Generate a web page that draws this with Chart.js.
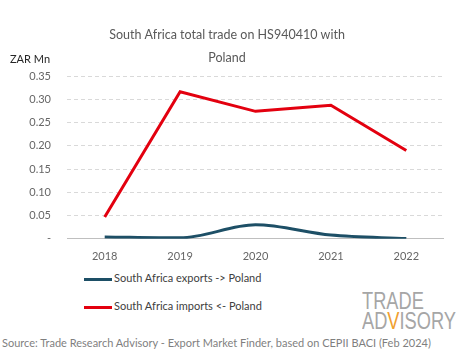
<!DOCTYPE html>
<html>
<head>
<meta charset="utf-8">
<script src="https://cdn.jsdelivr.net/npm/chart.js@4/dist/chart.umd.min.js"></script>
<style>
  body { margin: 0; background: #fff; font-family: Lato, sans-serif; }
  #wrap { position: relative; width: 465px; height: 359px; overflow: hidden; }
  #chartBox { position: absolute; left: 0; top: 0; width: 465px; height: 266px; }
  .unit { position: absolute; left: 10px; top: 52px; font-size: 11px; color: #262626; }
  .legend { position: absolute; left: 84px; font-size: 11px; color: #404040; }
  .legend span.swatch { display: inline-block; width: 28px; height: 3px; vertical-align: middle; margin-right: 2px; }
  .logo { position: absolute; left: 362px; top: 291px; color: #a6a6a6; font-family: 'Liberation Sans', sans-serif; font-size: 24px; line-height: 20px; transform: scaleX(0.76); transform-origin: left top; white-space: nowrap; }
  .logo .v { color: #f0a030; }
  .source { position: absolute; left: 2px; top: 336px; font-size: 11px; color: #7f7f7f; white-space: nowrap; }
</style>
</head>
<body>
<div id="wrap">
  <div id="chartBox"><canvas id="tradeChart"></canvas></div>
  <div class="unit">ZAR Mn</div>
  <div class="legend" style="top:271px"><span class="swatch" style="background:#1d4f66"></span>South Africa exports -&gt; Poland</div>
  <div class="legend" style="top:299px"><span class="swatch" style="background:#e3000f"></span>South Africa imports &lt;- Poland</div>
  <div class="logo">TRADE<br>AD<span class="v">V</span>ISORY</div>
  <div class="source">Source: Trade Research Advisory - Export Market Finder, based on CEPII BACI (Feb 2024)</div>
</div>
<script>
const years = ['2018', '2019', '2020', '2021', '2022'];
const exportsToPoland = [0.004, 0.002, 0.030, 0.008, 0.0005];
const importsFromPoland = [0.047, 0.316, 0.274, 0.287, 0.190];
const yTicks = [0, 0.05, 0.10, 0.15, 0.20, 0.25, 0.30, 0.35];

const ctx = document.getElementById('tradeChart').getContext('2d');
new Chart(ctx, {
  type: 'line',
  data: {
    labels: years,
    datasets: [
      {
        label: 'South Africa exports -> Poland',
        data: exportsToPoland,
        borderColor: '#1d4f66',
        borderWidth: 3,
        pointRadius: 0,
        tension: 0.3,
        cubicInterpolationMode: 'monotone'
      },
      {
        label: 'South Africa imports <- Poland',
        data: importsFromPoland,
        borderColor: '#e3000f',
        borderWidth: 3,
        pointRadius: 0,
        tension: 0
      }
    ]
  },
  options: {
    responsive: true,
    maintainAspectRatio: false,
    animation: false,
    layout: { padding: { left: 10, right: 21, top: 0, bottom: 0 } },
    plugins: {
      legend: { display: false },
      tooltip: { enabled: false },
      title: {
        display: true,
        text: ['South Africa total trade on HS940410 with', 'Poland'],
        color: '#595959',
        font: { family: 'Lato', size: 12.5, weight: 'normal', lineHeight: 1.8 },
        padding: { top: 24, bottom: 7 }
      }
    },
    scales: {
      x: {
        offset: true,
        grid: { display: false },
        border: { display: false },
        ticks: { color: '#666', font: { family: 'Lato', size: 11 }, padding: 3 }
      },
      y: {
        min: 0,
        max: 0.35,
        afterBuildTicks: (scale) => { scale.ticks = yTicks.map(v => ({ value: v })); },
        afterFit: (scale) => { scale.width = 57; },
        border: {
          display: false,
          dash: (c) => (c.tick && c.tick.value === 0 ? [] : [4, 3])
        },
        grid: {
          drawTicks: false,
          color: (c) => (c.tick && c.tick.value === 0 ? '#bfbfbf' : '#d9d9d9')
        },
        ticks: {
          color: '#666',
          font: { family: 'Lato', size: 11 },
          padding: 16,
          callback: (v) => (v === 0 ? '-' : v.toFixed(2))
        }
      }
    }
  }
});
</script>
</body>
</html>
